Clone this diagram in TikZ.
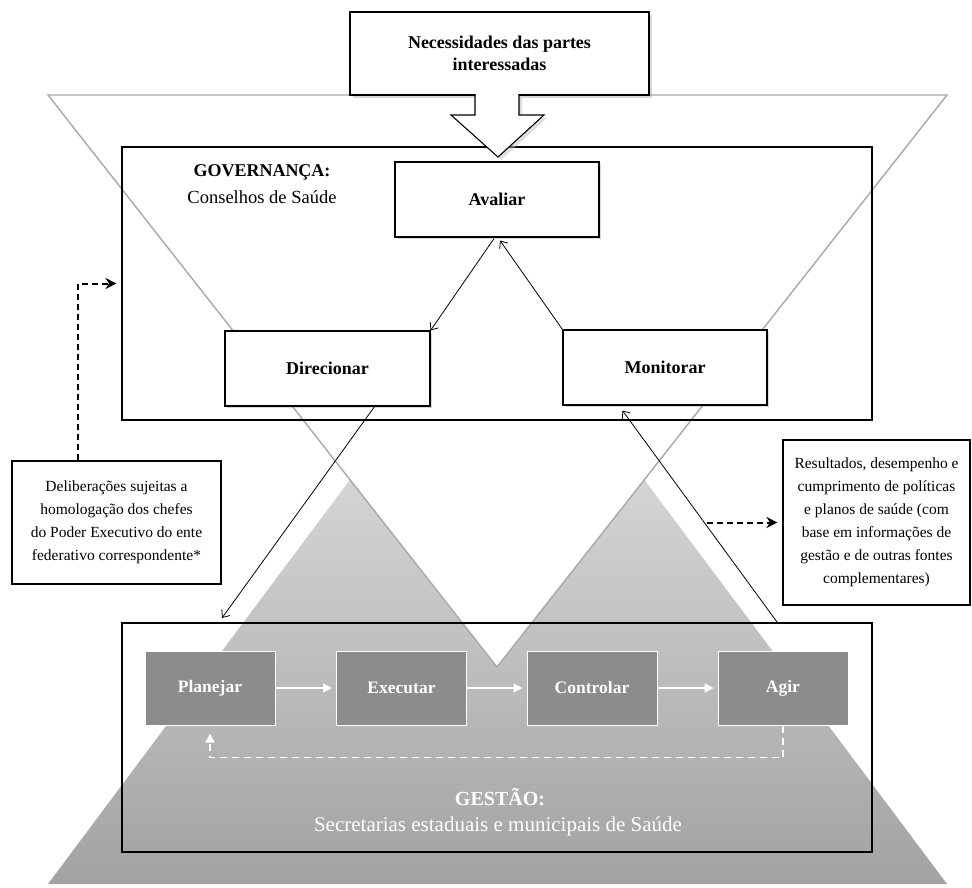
\documentclass[tikz,border=0pt]{standalone}
\usepackage{fontspec}
\setmainfont{Liberation Serif}
\usetikzlibrary{arrows.meta,shadows,calc}
\definecolor{vgray}{HTML}{A8A8A8}
\definecolor{pyrtop}{HTML}{EDEDED}
\definecolor{pyrbot}{HTML}{A2A2A2}
\definecolor{boxgray}{HTML}{8C8C8C}
\begin{document}
\begin{tikzpicture}[x=1pt,y=-1pt,
  frame/.style={draw=black, line width=1.1pt, inner sep=0pt},
  govbox/.style={draw=black, line width=1.1pt, fill=white, minimum width=204pt, minimum height=75pt, inner sep=0pt,
     font=\fontsize{18}{22}\selectfont\bfseries, drop shadow={shadow xshift=2pt,shadow yshift=-2pt,opacity=0.3}},
  pdcabox/.style={fill=boxgray, draw=white, line width=1pt, minimum width=130pt, minimum height=74pt, inner sep=0pt,
     text=white, font=\fontsize{17.5}{21}\selectfont\bfseries},
  notebox/.style={draw=black, line width=1.1pt, fill=white, inner sep=0pt, align=center,
     font=\fontsize{15.5}{23}\selectfont},
  thinarrow/.style={draw=black, line width=0.8pt, -{Straight Barb[length=6pt,width=10pt]}},
  whitearrow/.style={draw=white, line width=1.6pt, -{Triangle[length=9pt,width=9pt]}},
  dasharrow/.style={draw=black, line width=2pt, dash pattern=on 6pt off 4pt, -{Stealth[length=11pt,width=11pt]}},
]
\useasboundingbox (0,0) rectangle (972,888);
\fill[white] (0,0) rectangle (972,888);

% upright pyramid (gestao)
\shade[top color=pyrtop, bottom color=pyrbot] (48,884) -- (947,884) -- (497,283) -- cycle;
% inverted triangle (governanca)
\filldraw[fill=white, draw=vgray, line width=1.4pt] (48,95) -- (947,95) -- (497,667) -- cycle;

% frames
\node[frame, minimum width=750pt, minimum height=273pt] (gov) at (497,283.5) {};
\node[frame, minimum width=750pt, minimum height=229pt] (gest) at (497,737.5) {};

% top box and big arrow
\node[draw=black, line width=1.1pt, fill=white, minimum width=299pt, minimum height=83pt, inner sep=0pt, align=center,
      font=\fontsize{18}{22}\selectfont\bfseries, drop shadow={shadow xshift=3pt,shadow yshift=-3pt,opacity=0.3}]
      (need) at (499.5,53.5) {Necessidades das partes\\interessadas};
\fill[gray!50, opacity=0.5] (478,98) -- (478,118) -- (454,118) -- (501,160) -- (547,118) -- (522,118) -- (522,98) -- cycle;
\fill[white] (476,93) rectangle (518,97);
\draw[line width=1.1pt, fill=white, line join=miter] (475,95) -- (475,115) -- (451,115) -- (498,157) -- (544,115) -- (519,115) -- (519,95);
\fill[white] (476.2,93) rectangle (517.8,98);

% governance labels
\node[font=\fontsize{18}{22}\selectfont\bfseries] (govtitle) at (262,172) {GOVERNANÇA:};
\node[font=\fontsize{18.5}{22}\selectfont] (govsub) at (262,197) {Conselhos de Saúde};

% governance boxes
\node[govbox] (aval) at (497,199.5) {Avaliar};
\node[govbox, minimum width=205pt] (dir) at (327.5,368.5) {Direcionar};
\node[govbox] (mon) at (665,367.5) {Monitorar};

% PDCA boxes
\node[pdcabox] (plan) at (210,688) {Planejar};
\node[pdcabox] (exec) at (401.5,688) {Executar};
\node[pdcabox] (ctrl) at (592,688) {Controlar};
\node[pdcabox] (agir) at (783,688) {Agir};

\node[text=white, font=\fontsize{20}{24}\selectfont\bfseries] (gesttitle) at (500,797) {GESTÃO:};
\node[text=white, font=\fontsize{21}{25}\selectfont] (gestsub) at (498,826) {Secretarias estaduais e municipais de Saúde};

% side notes
\node[notebox, minimum width=209pt, minimum height=123pt] (delib) at (116.5,522.5)
  {Deliberações sujeitas a\\homologação dos chefes\\do Poder Executivo do ente\\federativo correspondente*};
\node[notebox, minimum width=187pt, minimum height=165pt] (res) at (876.5,522.5)
  {Resultados, desempenho e\\cumprimento de políticas\\e planos de saúde (com\\base em informações de\\gestão e de outras fontes\\complementares)};

% connectors in governance
\draw[thinarrow] ($(aval.south)+(-3,1)$) -- (dir.north east);
\draw[thinarrow] (mon.north west) -- ($(aval.south)+(3,3)$);

% connectors between governance and gestao
\coordinate (dirEnd) at (222,618);
\coordinate (agirStart) at (777,622);
\draw[thinarrow] ($(dir.south east)+(-56,0)$) -- (dirEnd);
\draw[thinarrow] (agirStart) -- ($(mon.south west)+(60,5)$);

% PDCA arrows
\draw[whitearrow, shorten >=4pt] (plan.east) -- (exec.west);
\draw[whitearrow, shorten >=4pt] (exec.east) -- (ctrl.west);
\draw[whitearrow, shorten >=4pt] (ctrl.east) -- (agir.west);
\draw[draw=white, line width=1.6pt, dash pattern=on 7pt off 5pt, -{Triangle[length=9pt,width=9pt]}, shorten >=8pt]
  (agir.south) -- ++(0,32) -| (plan.south);

% dashed side arrows
\draw[dasharrow, shorten >=5pt] ($(delib.north west)+(67,0)$) |- (gov.west);
\coordinate (resStart) at (707,522.5);
\draw[dasharrow, shorten >=5pt] (resStart) -- (res.west);
\end{tikzpicture}
\end{document}
